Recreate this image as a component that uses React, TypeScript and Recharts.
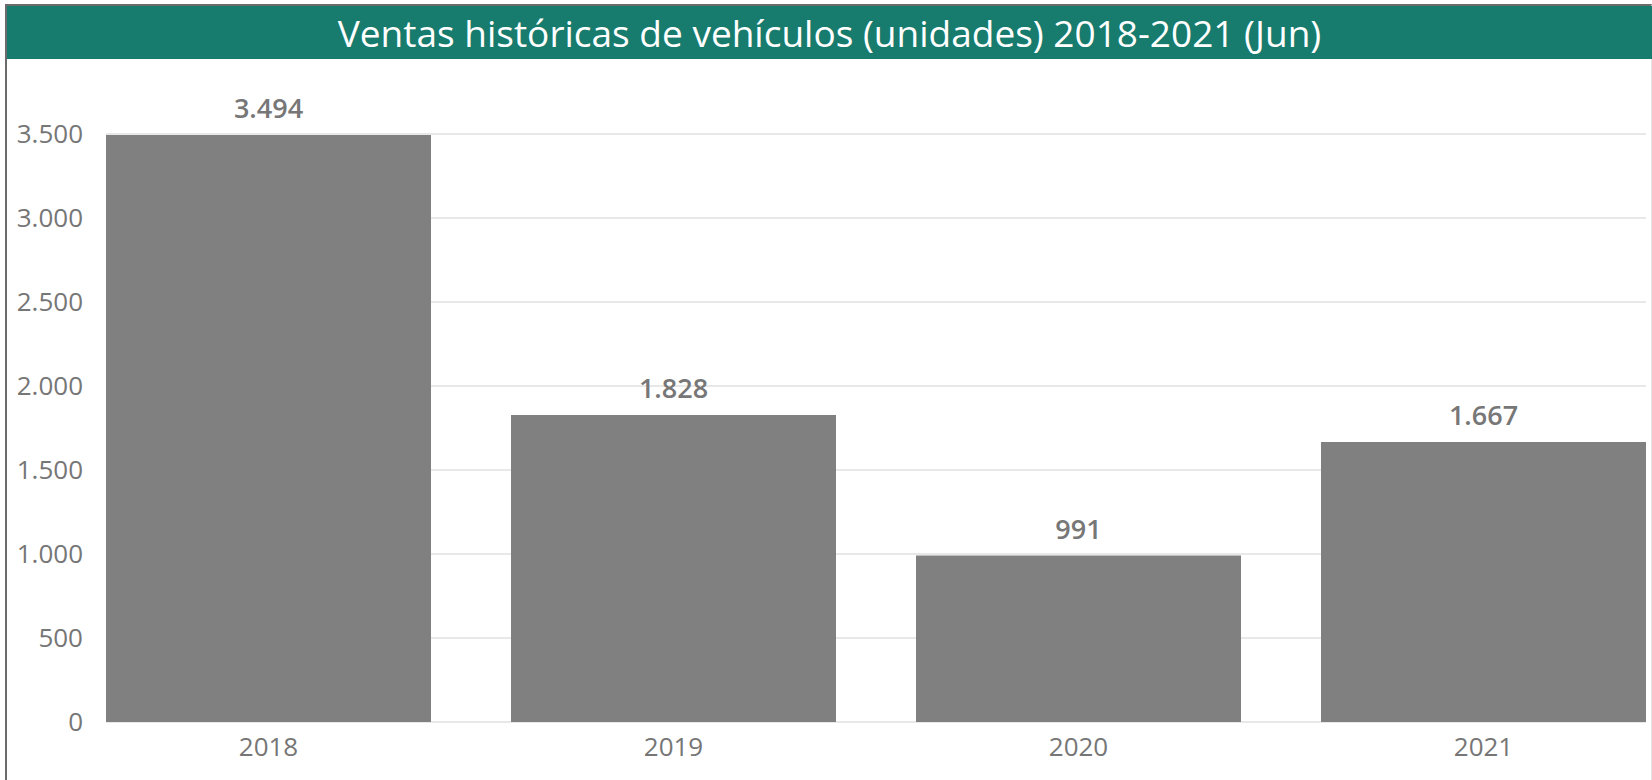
import { BarChart, Bar, XAxis, YAxis, CartesianGrid, LabelList } from "recharts";

const years = ["2018", "2019", "2020", "2021"];
const units = [3494, 1828, 991, 1667];
const yTicks = [0, 500, 1000, 1500, 2000, 2500, 3000, 3500];

const data = years.map((year, i) => ({ year, units: units[i] }));

// separador de miles con punto
const fmt = (v: number) => String(v).replace(/\B(?=(\d{3})+(?!\d))/g, ".");

const FONT = "'Open Sans', 'Noto Sans', sans-serif";

export default function App() {
  return (
    <div style={{ position: "absolute", left: 0, top: 0, width: 1652, height: 780, background: "#fff", overflow: "hidden", fontFamily: FONT }}>
      {/* marco */}
      <div
        style={{
          position: "absolute",
          left: 5,
          top: 4,
          width: 1644,
          height: 800,
          borderTop: "2px solid #6b6b6b",
          borderLeft: "2px solid #6b6b6b",
          borderRight: "1px solid #e3e3e3",
        }}
      />
      <div
        style={{
          position: "absolute",
          left: 7,
          top: 6,
          width: 1645,
          height: 53,
          background: "#177b6e",
          color: "#fff",
          fontSize: 37,
          lineHeight: "53px",
          textAlign: "center",
          whiteSpace: "nowrap",
        }}
      >
        Ventas históricas de vehículos (unidades) 2018-2021 (Jun)
      </div>
      <div style={{ position: "absolute", left: 0, top: 0 }}>
        <BarChart
          width={1652}
          height={780}
          data={data}
          margin={{ top: 134, right: 6, bottom: 8, left: 6 }}
          barCategoryGap={40}
        >
          <CartesianGrid vertical={false} stroke="#e8e8e8" strokeWidth={2} />
          <XAxis
            dataKey="year"
            height={50}
            padding={{ left: -40, right: -40 }}
            axisLine={false}
            tickLine={false}
            tickSize={0}
            tickMargin={16}
            tick={{ fontSize: 26, fill: "#767676", fontFamily: FONT }}
          />
          <YAxis
            width={100}
            domain={[0, 3500]}
            ticks={yTicks}
            interval={0}
            axisLine={false}
            tickLine={false}
            tickSize={0}
            tickMargin={23}
            tickFormatter={fmt}
            tick={{ fontSize: 26, fill: "#767676", fontFamily: FONT }}
          />
          <Bar dataKey="units" fill="#808080" isAnimationActive={false}>
            <LabelList
              dataKey="units"
              position="top"
              offset={17}
              formatter={(v: any) => fmt(Number(v))}
              style={{ fontSize: 27, fontWeight: 600, fill: "#777777", fontFamily: FONT }}
            />
          </Bar>
        </BarChart>
      </div>
    </div>
  );
}
